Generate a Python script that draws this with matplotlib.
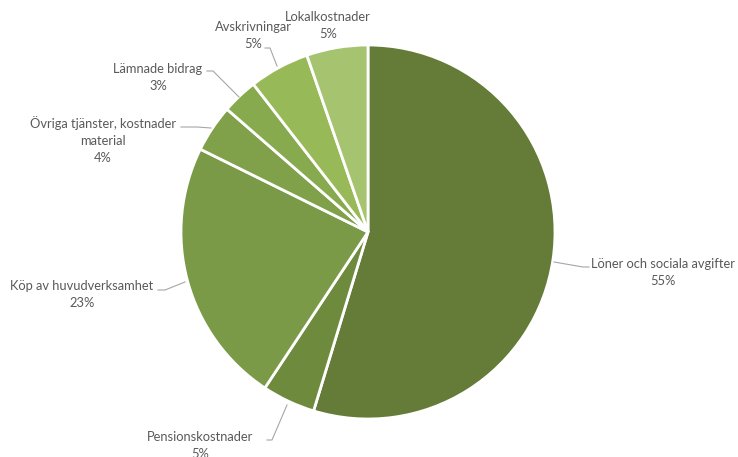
import matplotlib
matplotlib.use("Agg")
import matplotlib.pyplot as plt

# andelar av kostnaderna (läst ur bilden), medurs från kl 12
labels = ["Löner och sociala avgifter", "Pensionskostnader", "Köp av huvudverksamhet",
          "Övriga tjänster, kostnader\nmaterial", "Lämnade bidrag", "Avskrivningar",
          "Lokalkostnader"]
values = [54.7, 4.6, 23.0, 4.1, 3.1, 5.2, 5.3]
pct_labels = ["55%", "5%", "23%", "4%", "3%", "5%", "5%"]
colors = ["#647C37", "#6E8B3D", "#7A9A47", "#80A04A", "#88AA4F", "#98B957", "#A6C46F"]

W, H = 738, 457
fig = plt.figure(figsize=(W / 100, H / 100), dpi=100)
ax = fig.add_axes([0, 0, 1, 1])

cx, cy, r = 368, H - 232, 187
ax.pie(values, colors=colors, startangle=90, counterclock=False,
       center=(cx, cy), radius=r, frame=True,
       wedgeprops=dict(edgecolor="white", linewidth=2))
ax.set_xlim(0, W)
ax.set_ylim(0, H)
ax.axis("off")

# etikettpositioner i pixlar (x mitt, y överkant) och ledarlinjer
txt_pos = [(663, 258), (200, 431), (82, 280), (103, 116), (158, 63), (253, 21), (328, 11)]
leaders = [
    [(554, 262), (583, 267), (589, 267)],
    [(287, 405), (272, 440), (267, 440)],
    [(185, 282), (165, 290), (158, 290)],
    [(211, 128), (197, 127), (181, 127)],
    [(239, 97), (213, 71), (207, 71)],
    [(277, 66), (270, 48), (265, 48)],
    None,
]

for i in range(len(labels)):
    x, y = txt_pos[i]
    ax.text(x, H - y, labels[i] + "\n" + pct_labels[i], ha="center", va="top",
            fontsize=9.3, color="#595959", family="Lato", linespacing=1.5)
    if leaders[i]:
        xs = [p[0] for p in leaders[i]]
        ys = [H - p[1] for p in leaders[i]]
        ax.plot(xs, ys, color="#A6A6A6", lw=0.8)

fig.savefig("out.png", dpi=100)
